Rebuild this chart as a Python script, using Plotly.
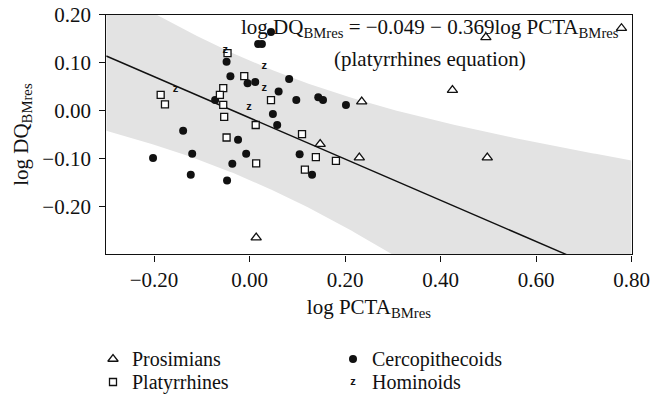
import numpy as np
import plotly.graph_objects as go

# ---- data: log PCTA_BMres (x) vs log DQ_BMres (y) ----
prosimians_x = [0.779, 0.495, 0.425, 0.498, 0.235, 0.148, 0.230, 0.014]
prosimians_y = [0.172, 0.153, 0.043, -0.098, 0.019, -0.070, -0.098, -0.265]

platyrrhines_x = [-0.186, -0.177, -0.046, -0.011, -0.055, -0.062, -0.055, -0.053,
                  0.045, 0.013, -0.048, 0.110, 0.014, 0.139, 0.181, 0.116]
platyrrhines_y = [0.033, 0.013, 0.120, 0.072, 0.047, 0.033, 0.012, -0.013,
                  0.022, -0.030, -0.056, -0.049, -0.110, -0.097, -0.105, -0.123]

cercopithecoids_x = [0.045, 0.018, 0.026, -0.048, -0.040, -0.004, 0.012, 0.061, 0.083,
                     -0.072, 0.049, 0.058, -0.139, 0.098, 0.144, 0.154, 0.202, 0.105,
                     -0.024, -0.120, -0.007, -0.036, -0.123, -0.047, 0.131, -0.202]
cercopithecoids_y = [0.164, 0.139, 0.139, 0.102, 0.072, 0.057, 0.060, 0.040, 0.066,
                     0.022, -0.007, -0.030, -0.042, 0.022, 0.028, 0.022, 0.012, -0.091,
                     -0.061, -0.090, -0.090, -0.111, -0.134, -0.146, -0.134, -0.099]

hominoids_x = [-0.051, 0.031, 0.031, -0.155, -0.001]
hominoids_y = [0.127, 0.093, 0.047, 0.045, 0.008]

x_tick_vals = [-0.2, 0.0, 0.2, 0.4, 0.6, 0.8]
x_tick_text = ["\u22120.20", "0.00", "0.20", "0.40", "0.60", "0.80"]
y_tick_vals = [-0.2, -0.1, 0.0, 0.1, 0.2]
y_tick_text = ["\u22120.20", "\u22120.10", "0.00", "0.10", "0.20"]

group_names = ["Prosimians", "Platyrrhines", "Cercopithecoids", "Hominoids"]

# fitted regression line and its curved confidence band
FIT_INTERCEPT = -0.015
FIT_SLOPE = -0.43
BAND_SHIFT = -0.005
BAND_HW0_SQ = 0.0155
BAND_SPREAD_SQ = 0.0815

X_RANGE = [-0.3, 0.8]
Y_RANGE = [-0.3, 0.2]

SERIF = "Liberation Serif"
INK = "#111111"
BAND_GRAY = "#e3e3e3"
FS_TICK = 21
FS_TITLE = 21
FS_KEY = 20
FS_EQ = 21

W, H = 661, 402
plot_left, plot_right = 106.25, 631.5
plot_top, plot_bottom = 14.8, 254.4

fig = go.Figure()

xs = np.linspace(X_RANGE[0], X_RANGE[1], 221)
fit = FIT_INTERCEPT + FIT_SLOPE * xs
half = np.sqrt(BAND_HW0_SQ + BAND_SPREAD_SQ * xs ** 2)
fig.add_trace(go.Scatter(x=xs, y=fit + BAND_SHIFT - half, mode="lines",
                         line=dict(width=0, color=BAND_GRAY),
                         hoverinfo="skip", showlegend=False))
fig.add_trace(go.Scatter(x=xs, y=fit + BAND_SHIFT + half, mode="lines",
                         line=dict(width=0, color=BAND_GRAY), fill="tonexty",
                         fillcolor=BAND_GRAY, hoverinfo="skip", showlegend=False))
fig.add_trace(go.Scatter(x=xs, y=fit, mode="lines",
                         line=dict(width=1.4, color=INK),
                         hoverinfo="skip", showlegend=False))

tri_marker = dict(symbol="triangle-up", size=9, color="white",
                  line=dict(color=INK, width=1.3))
sq_marker = dict(symbol="square", size=7, color="white",
                 line=dict(color=INK, width=1.3))
dot_marker = dict(symbol="circle", size=8, color=INK, line=dict(width=0))
z_font = dict(family="Liberation Sans", size=11, color=INK, weight="bold")

fig.add_trace(go.Scatter(x=cercopithecoids_x, y=cercopithecoids_y, mode="markers",
                         marker=dot_marker, name=group_names[2], showlegend=False))
fig.add_trace(go.Scatter(x=platyrrhines_x, y=platyrrhines_y, mode="markers",
                         marker=sq_marker, name=group_names[1], showlegend=False))
fig.add_trace(go.Scatter(x=prosimians_x, y=prosimians_y, mode="markers",
                         marker=tri_marker, name=group_names[0], showlegend=False,
                         cliponaxis=False))
fig.add_trace(go.Scatter(x=hominoids_x, y=hominoids_y, mode="text",
                         text=["z"] * len(hominoids_x), textfont=z_font,
                         textposition="middle center",
                         name=group_names[3], showlegend=False))

# key below the chart, drawn on a hidden pixel-space overlay axis
key_rows = [(113, 359), (113, 382), (353, 359), (353, 382)]
fig.add_trace(go.Scatter(x=[key_rows[0][0]], y=[key_rows[0][1]], mode="markers",
                         marker=tri_marker, xaxis="x2", yaxis="y2",
                         hoverinfo="skip", showlegend=False))
fig.add_trace(go.Scatter(x=[key_rows[1][0]], y=[key_rows[1][1]], mode="markers",
                         marker=sq_marker, xaxis="x2", yaxis="y2",
                         hoverinfo="skip", showlegend=False))
fig.add_trace(go.Scatter(x=[key_rows[2][0]], y=[key_rows[2][1]], mode="markers",
                         marker=dot_marker, xaxis="x2", yaxis="y2",
                         hoverinfo="skip", showlegend=False))
fig.add_trace(go.Scatter(x=[key_rows[3][0]], y=[key_rows[3][1]], mode="text",
                         text=["z"], textfont=z_font, xaxis="x2", yaxis="y2",
                         hoverinfo="skip", showlegend=False))

annotations = []
for (kx, ky), label in zip(key_rows, group_names):
    annotations.append(dict(x=kx + 17, y=ky, xref="x2", yref="y2", text=label,
                            showarrow=False, xanchor="left", yanchor="middle",
                            font=dict(family=SERIF, size=FS_KEY, color=INK)))

annotations.append(dict(
    x=0.378, y=0.172, xref="x", yref="y",
    text="log DQ<sub>BMres</sub> = \u22120.049 \u2212 0.369log PCTA<sub>BMres</sub>",
    showarrow=False, xanchor="center", yanchor="middle",
    font=dict(family=SERIF, size=FS_EQ, color=INK)))
annotations.append(dict(
    x=0.378, y=0.108, xref="x", yref="y",
    text="(platyrrhines equation)",
    showarrow=False, xanchor="center", yanchor="middle",
    font=dict(family=SERIF, size=FS_EQ, color=INK)))

axis_common = dict(showline=True, linecolor=INK, linewidth=1.2, mirror=True,
                   ticks="outside", ticklen=6, tickwidth=1.2, tickcolor=INK,
                   showgrid=False, zeroline=False, automargin=False,
                   tickfont=dict(family=SERIF, size=FS_TICK, color=INK))

fig.update_layout(
    width=W, height=H,
    margin=dict(l=0, r=0, t=0, b=0, autoexpand=False),
    paper_bgcolor="white", plot_bgcolor="rgba(0,0,0,0)",
    showlegend=False,
    xaxis=dict(domain=[plot_left / W, plot_right / W], range=X_RANGE,
               tickvals=x_tick_vals, ticktext=x_tick_text,
               title=dict(text="log PCTA<sub>BMres</sub>", standoff=8,
                          font=dict(family=SERIF, size=FS_TITLE, color=INK)),
               **axis_common),
    yaxis=dict(domain=[1 - plot_bottom / H, 1 - plot_top / H], range=Y_RANGE,
               tickvals=y_tick_vals, ticktext=y_tick_text,
               ticklabelstandoff=4,
               title=dict(text="log DQ<sub>BMres</sub>", standoff=8,
                          font=dict(family=SERIF, size=FS_TITLE, color=INK)),
               **axis_common),
    xaxis2=dict(domain=[0, 1], range=[0, W], visible=False, anchor="y2",
                fixedrange=True, automargin=False),
    yaxis2=dict(domain=[0, 1], range=[H, 0], visible=False, anchor="x2",
                fixedrange=True, automargin=False),
    annotations=annotations,
)

fig.write_html("out.html")
